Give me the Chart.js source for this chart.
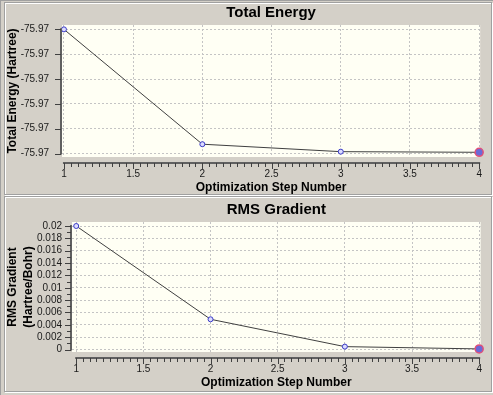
<!DOCTYPE html>
<html>
<head>
<meta charset="utf-8">
<script src="https://cdn.jsdelivr.net/npm/chart.js@4.4.0/dist/chart.umd.min.js"></script>
<style>
  html, body { margin: 0; padding: 0; }
  body { width: 493px; height: 395px; overflow: hidden; background: #d4d0c8; position: relative; font-family: "Liberation Sans", Arial, sans-serif; }
  #frame { position: absolute; left: 0; top: 0; width: 493px; height: 395px; box-sizing: border-box; border-left: 1px solid #a0a0a0; border-top: 1px solid #a0a0a0; }
  .panel { position: absolute; box-sizing: border-box; border: 1px solid #a0a0a0; box-shadow: inset 1px 1px 0 #fff, 1px 1px 0 #fff; }
  #p1 { left: 4px; top: 2px; width: 488px; height: 193px; }
  #p2 { left: 4px; top: 196px; width: 488px; height: 196px; }
  canvas { position: absolute; left: 0; }
  #energyChart, #energyAxes { top: 0; }
  #gradChart, #gradAxes { top: 196px; }
</style>
</head>
<body>
<div id="frame"></div>
<div class="panel" id="p1"></div>
<div class="panel" id="p2"></div>
<canvas id="energyChart" width="493" height="196"></canvas>
<canvas id="gradChart" width="493" height="199"></canvas>
<canvas id="energyAxes" width="493" height="196"></canvas>
<canvas id="gradAxes" width="493" height="199"></canvas>
<script>
// values
const steps = [1, 2, 3, 4];
const energy = [-75.96960, -75.97145, -75.97157, -75.97158]; // Hartree
const rmsGradient = [0.0200, 0.0049, 0.00047, 0.0001]; // Hartree/Bohr

const stepTicks = [1, 1.5, 2, 2.5, 3, 3.5, 4];
const energyTicks = [-75.9696, -75.9700, -75.9704, -75.9708, -75.9712, -75.9716];
const gradTicks = [0, 0.002, 0.004, 0.006, 0.008, 0.01, 0.012, 0.014, 0.016, 0.018, 0.02];

const FONT = '"Liberation Sans", Arial, sans-serif';

// ivory plot background under the grid
const plotBg = {
  id: 'plotBg',
  beforeDraw(chart) {
    const { ctx, chartArea: a } = chart;
    ctx.save();
    ctx.fillStyle = '#fffff4';
    ctx.fillRect(a.left, a.top, a.right - a.left, a.bottom - a.top);
    ctx.restore();
  }
};

// axis lines + major/minor ticks on an overlay canvas, placed with the chart's own scales
function drawAxes(chart, cfg, canvasId) {
  const ctx = document.getElementById(canvasId).getContext('2d');
  const a = chart.chartArea;
  const xs = chart.scales.x, ys = chart.scales.y;
  const axY = Math.round(a.bottom + cfg.gapX);
  const axX = Math.round(a.left) - 1;
  const xFirst = stepTicks[0], xLast = stepTicks[stepTicks.length - 1];
  const y0 = ys.getPixelForValue(cfg.yTicks[0]);
  const y1 = ys.getPixelForValue(cfg.yTicks[cfg.yTicks.length - 1]);

  ctx.strokeStyle = '#606060';
  ctx.lineWidth = 2;
  ctx.beginPath();
  ctx.moveTo(xs.getPixelForValue(xFirst) - 1, axY);
  ctx.lineTo(xs.getPixelForValue(xLast) + 1, axY);
  ctx.moveTo(axX, Math.min(y0, y1) - 1);
  ctx.lineTo(axX, Math.max(y0, y1) + 1);
  ctx.stroke();

  ctx.strokeStyle = '#404040';
  ctx.lineWidth = 1;
  ctx.beginPath();
  const nx = Math.round((xLast - xFirst) / 0.05);
  for (let i = 0; i <= nx; i++) {
    const px = Math.round(xs.getPixelForValue(xFirst + i * 0.05)) + 0.5;
    ctx.moveTo(px, axY);
    ctx.lineTo(px, axY + (i % 10 === 0 ? 6 : 4));
  }
  cfg.yTicks.forEach(v => {
    const py = Math.round(ys.getPixelForValue(v)) + 0.5;
    ctx.moveTo(axX, py);
    ctx.lineTo(axX - 6, py);
  });
  if (cfg.yMinor) {
    const yLast = cfg.yTicks[cfg.yTicks.length - 1];
    const ny = Math.round((yLast - cfg.yTicks[0]) / cfg.yMinor);
    for (let i = 0; i <= ny; i++) {
      const py = Math.round(ys.getPixelForValue(cfg.yTicks[0] + i * cfg.yMinor)) + 0.5;
      ctx.moveTo(axX, py);
      ctx.lineTo(axX - 4, py);
    }
  }
  ctx.stroke();
}

function makeChart(canvasId, cfg) {
  const ctx = document.getElementById(canvasId).getContext('2d');
  const n = cfg.data.length;
  return new Chart(ctx, {
    type: 'line',
    data: {
      datasets: [{
        data: steps.map((s, i) => ({ x: s, y: cfg.data[i] })),
        borderColor: '#404040',
        borderWidth: 1,
        tension: 0,
        fill: false,
        clip: false,
        pointRadius: cfg.data.map((v, i) => i === n - 1 ? 4 : 2.5),
        pointBorderWidth: cfg.data.map((v, i) => i === n - 1 ? 1.5 : 1),
        pointBorderColor: cfg.data.map((v, i) => i === n - 1 ? '#e0507a' : '#3a3ac8'),
        pointBackgroundColor: cfg.data.map((v, i) => i === n - 1 ? '#6a6ad8' : '#dcdcff'),
      }]
    },
    options: {
      responsive: false,
      animation: false,
      devicePixelRatio: 1,
      layout: { padding: { top: 0, right: 4, bottom: cfg.padBottom, left: 0 } },
      plugins: {
        legend: { display: false },
        tooltip: { enabled: false },
        title: {
          display: true,
          text: cfg.title,
          fullSize: false,
          color: '#000',
          font: { family: FONT, size: 15, weight: 'bold', lineHeight: 1.15 },
          padding: cfg.titlePad,
        },
      },
      scales: {
        x: {
          type: 'linear',
          min: cfg.xMin,
          max: cfg.xMax,
          afterBuildTicks: s => { s.ticks = stepTicks.map(v => ({ value: v })); },
          afterFit: s => { s.height = 39; },
          grid: { color: '#c4c4c4', drawTicks: false },
          border: { display: false, dash: [2, 2] },
          ticks: { color: '#1a1a1a', padding: 11, autoSkip: false, maxRotation: 0, font: { family: FONT, size: 10 }, callback: v => String(v) },
          title: {
            display: true,
            text: 'Optimization Step Number',
            color: '#000',
            font: { family: FONT, size: 12, weight: 'bold', lineHeight: 16 / 12 },
            padding: { top: 0, bottom: 0 },
          },
        },
        y: {
          type: 'linear',
          min: cfg.yMin,
          max: cfg.yMax,
          afterBuildTicks: s => { s.ticks = cfg.yTicks.map(v => ({ value: v })); },
          afterFit: s => { s.width = cfg.yWidth; },
          grid: { color: '#c4c4c4', drawTicks: false },
          border: { display: false, dash: [2, 2] },
          ticks: { color: '#1a1a1a', padding: cfg.yPad, autoSkip: false, font: { family: FONT, size: 10 }, callback: cfg.yFormat },
          title: {
            display: true,
            text: cfg.yTitle,
            color: '#000',
            font: { family: FONT, size: 12, weight: 'bold', lineHeight: 16 / 12 },
            padding: { top: cfg.yTitleTop, bottom: 0 },
          },
        },
      },
    },
    plugins: [plotBg],
  });
}

const energyCfg = {
  title: 'Total Energy',
  data: energy,
  yTicks: energyTicks,
  yMin: -75.971656,
  yMax: -75.96953,
  xMin: 0.986,
  xMax: 4.007,
  yWidth: 62,
  yPad: 13,
  yTitle: 'Total Energy (Hartree)',
  yTitleTop: 5,
  yFormat: v => v.toFixed(2),
  yMinor: 0,
  titlePad: { top: 4, bottom: 3.75 },
  padBottom: 0,
  gapX: 6,
};

const gradCfg = {
  title: 'RMS Gradient',
  data: rmsGradient,
  yTicks: gradTicks,
  yMin: -0.0004,
  yMax: 0.02065,
  xMin: 0.9686,
  xMax: 4.011,
  yWidth: 72,
  yPad: 10,
  yTitle: ['RMS Gradient', '(Hartree/Bohr)'],
  yTitleTop: 4.5,
  yFormat: v => String(+v.toFixed(3)),
  yMinor: 0.001,
  titlePad: { top: 5, bottom: 3.75 },
  padBottom: 4,
  gapX: 5.5,
};

const energyChart = makeChart('energyChart', energyCfg);
const gradChart = makeChart('gradChart', gradCfg);
drawAxes(energyChart, energyCfg, 'energyAxes');
drawAxes(gradChart, gradCfg, 'gradAxes');
</script>
</body>
</html>
